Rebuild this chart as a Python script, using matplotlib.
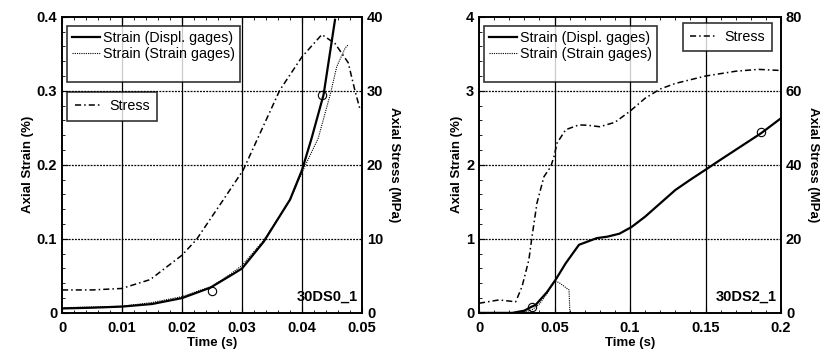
import matplotlib
matplotlib.use('Agg')
import matplotlib.pyplot as plt
from matplotlib.lines import Line2D

plt.rcParams['font.family'] = ['Liberation Sans', 'DejaVu Sans']
plt.rcParams['font.weight'] = 'bold'

# ---- test 30DS0_1 ----
t0_disp = [0, 0.005, 0.01, 0.015, 0.02, 0.0247, 0.028, 0.03, 0.0336, 0.038, 0.04, 0.0416, 0.0436, 0.0455]
s0_disp = [0.006, 0.007, 0.0085, 0.012, 0.02, 0.034, 0.05, 0.060, 0.096, 0.153, 0.193, 0.236, 0.295, 0.396]
t0_gage = [0, 0.005, 0.01, 0.015, 0.02, 0.025, 0.028, 0.03, 0.0336, 0.038, 0.04, 0.0427, 0.0447,
           0.0458, 0.0472, 0.0477]
s0_gage = [0.007, 0.008, 0.009, 0.014, 0.022, 0.036, 0.052, 0.064, 0.098, 0.152, 0.19, 0.236, 0.295,
           0.333, 0.358, 0.362]
t0_stress = [0, 0.005, 0.00995, 0.0147, 0.02, 0.0224, 0.0269, 0.0302, 0.0363, 0.04, 0.0433, 0.0455,
             0.0477, 0.0488, 0.0497]
p0_stress = [3.1, 3.1, 3.3, 4.5, 7.8, 9.9, 15.3, 19.3, 30.1, 34.6, 37.6, 36.4, 33.8, 30.1, 27.4]
t0_mark = [0.025, 0.0433]
s0_mark = [0.029, 0.295]

# ---- test 30DS2_1 ----
t2_disp = [0, 0.022, 0.03, 0.035, 0.0375, 0.045, 0.0508, 0.0574, 0.0662, 0.078, 0.085, 0.093,
           0.101, 0.11, 0.12, 0.13, 0.14, 0.1497, 0.16, 0.175, 0.187, 0.2]
s2_disp = [0, 0, 0.03, 0.085, 0.108, 0.28, 0.45, 0.67, 0.92, 1.01, 1.03, 1.07,
           1.16, 1.3, 1.48, 1.66, 1.8, 1.93, 2.07, 2.27, 2.43, 2.63]
t2_gage = [0, 0.025, 0.03, 0.035, 0.04, 0.045, 0.05, 0.053, 0.0596, 0.0602]
s2_gage = [0, 0, 0.01, 0.04, 0.12, 0.26, 0.43, 0.41, 0.31, 0.0]
t2_stress = [0, 0.0132, 0.0243, 0.0285, 0.033, 0.0351, 0.0384, 0.043, 0.0475, 0.0497, 0.0517,
             0.0574, 0.0662, 0.072, 0.08, 0.09, 0.1, 0.11, 0.12, 0.13, 0.15, 0.17, 0.185, 0.2]
p2_stress = [2.6, 3.5, 3.0, 7.1, 14.3, 20.6, 29.7, 36.8, 39.5, 42.3, 45.9,
             49.5, 50.8, 50.7, 50.3, 51.5, 54.5, 58.0, 60.5, 62.0, 64.0, 65.3, 65.8, 65.5]
t2_mark = [0.035, 0.187]
s2_mark = [0.085, 2.45]

panels = [
    dict(pos=[0.074, 0.126, 0.358, 0.827], xmax=0.05, ymax=0.4, pmax=40,
         xticks=[0, 0.01, 0.02, 0.03, 0.04, 0.05], xtl=['0', '0.01', '0.02', '0.03', '0.04', '0.05'],
         yticks=[0, 0.1, 0.2, 0.3, 0.4], ytl=['0', '0.1', '0.2', '0.3', '0.4'],
         ptl=['0', '10', '20', '30', '40'],
         disp=(t0_disp, s0_disp), gage=(t0_gage, s0_gage), stress=(t0_stress, p0_stress),
         mark=(t0_mark, s0_mark), name='30DS0_1', stress_leg='left'),
    dict(pos=[0.5716, 0.126, 0.3604, 0.827], xmax=0.2, ymax=4, pmax=80,
         xticks=[0, 0.05, 0.1, 0.15, 0.2], xtl=['0', '0.05', '0.1', '0.15', '0.2'],
         yticks=[0, 1, 2, 3, 4], ytl=['0', '1', '2', '3', '4'],
         ptl=['0', '20', '40', '60', '80'],
         disp=(t2_disp, s2_disp), gage=(t2_gage, s2_gage), stress=(t2_stress, p2_stress),
         mark=(t2_mark, s2_mark), name='30DS2_1', stress_leg='right'),
]

fig = plt.figure(figsize=(8.38, 3.58), dpi=100)

for p in panels:
    ax = fig.add_axes(p['pos'])
    ax.set_xlim(0, p['xmax'])
    ax.set_ylim(0, p['ymax'])
    ax.set_xticks(p['xticks'])
    ax.set_xticklabels(p['xtl'])
    ax.set_yticks(p['yticks'])
    ax.set_yticklabels(p['ytl'])
    ax.minorticks_on()
    ax.tick_params(which='both', direction='in', top=True, labelsize=10.5)
    ax.tick_params(axis='x', pad=6)
    ax.tick_params(which='major', length=4)
    ax.tick_params(which='minor', length=2)
    for sp in ax.spines.values():
        sp.set_linewidth(1.2)
    for x in p['xticks'][1:-1]:
        ax.axvline(x, color='black', lw=0.9, zorder=1)
    for y in p['yticks'][1:-1]:
        ax.axhline(y, color='black', lw=0.9, ls=(0, (1.5, 1)), zorder=1)

    l1, = ax.plot(*p['disp'], color='black', lw=1.6, label='Strain (Displ. gages)')
    l2, = ax.plot(*p['gage'], color='black', lw=0.8, ls=(0, (1, 1)), label='Strain (Strain gages)')
    ax.plot(*p['mark'], 'o', mfc='none', mec='black', ms=6, mew=0.8)
    ax.set_xlabel('Time (s)', fontsize=9.5, fontweight='bold', labelpad=1)
    ax.set_ylabel('Axial Strain (%)', fontsize=9.5, fontweight='bold', labelpad=2)
    ax.text(0.985, 0.03, p['name'], transform=ax.transAxes, ha='right', va='bottom',
            fontsize=10.5, fontweight='bold')

    ax2 = ax.twinx()
    ax2.set_ylim(0, p['pmax'])
    ax2.set_yticks([p['pmax'] * i / 4 for i in range(5)])
    ax2.set_yticklabels(p['ptl'])
    ax2.tick_params(direction='in', labelsize=10.5, length=0)
    l3, = ax2.plot(*p['stress'], color='black', lw=1.1, ls=(0, (4, 2, 1, 2)), label='Stress')
    ax2.set_ylabel('Axial Stress (MPa)', fontsize=9.5, fontweight='bold', rotation=270, labelpad=12)
    for sp in ax2.spines.values():
        sp.set_linewidth(1.2)

    # third, invisible row keeps the empty space at the bottom of the legend box
    blank = Line2D([], [], color='none')
    leg1 = ax2.legend([l1, l2, blank], [l1.get_label(), l2.get_label(), 'X'],
                      loc='upper left', bbox_to_anchor=(0.015, 0.97), fontsize=10.3,
                      frameon=True, fancybox=False, handlelength=2.0, handletextpad=0.2,
                      borderpad=0.35, labelspacing=0.15, borderaxespad=0)
    leg1.get_frame().set_edgecolor('black')
    leg1.get_frame().set_linewidth(1.2)
    for txt in leg1.get_texts():
        txt.set_fontweight('normal')
    leg1.get_texts()[2].set_alpha(0)
    ax2.add_artist(leg1)
    if p['stress_leg'] == 'left':
        anchor, loc = (0.018, 0.745), 'upper left'
    else:
        anchor, loc = (0.97, 0.98), 'upper right'
    leg2 = ax2.legend([l3], ['Stress'], loc=loc, bbox_to_anchor=anchor, fontsize=10.3,
                      frameon=True, fancybox=False, handlelength=1.8, handletextpad=0.6,
                      borderpad=0.5, borderaxespad=0)
    leg2.get_frame().set_edgecolor('black')
    leg2.get_frame().set_linewidth(1.2)
    for txt in leg2.get_texts():
        txt.set_fontweight('normal')

fig.savefig('out.png', dpi=100)
